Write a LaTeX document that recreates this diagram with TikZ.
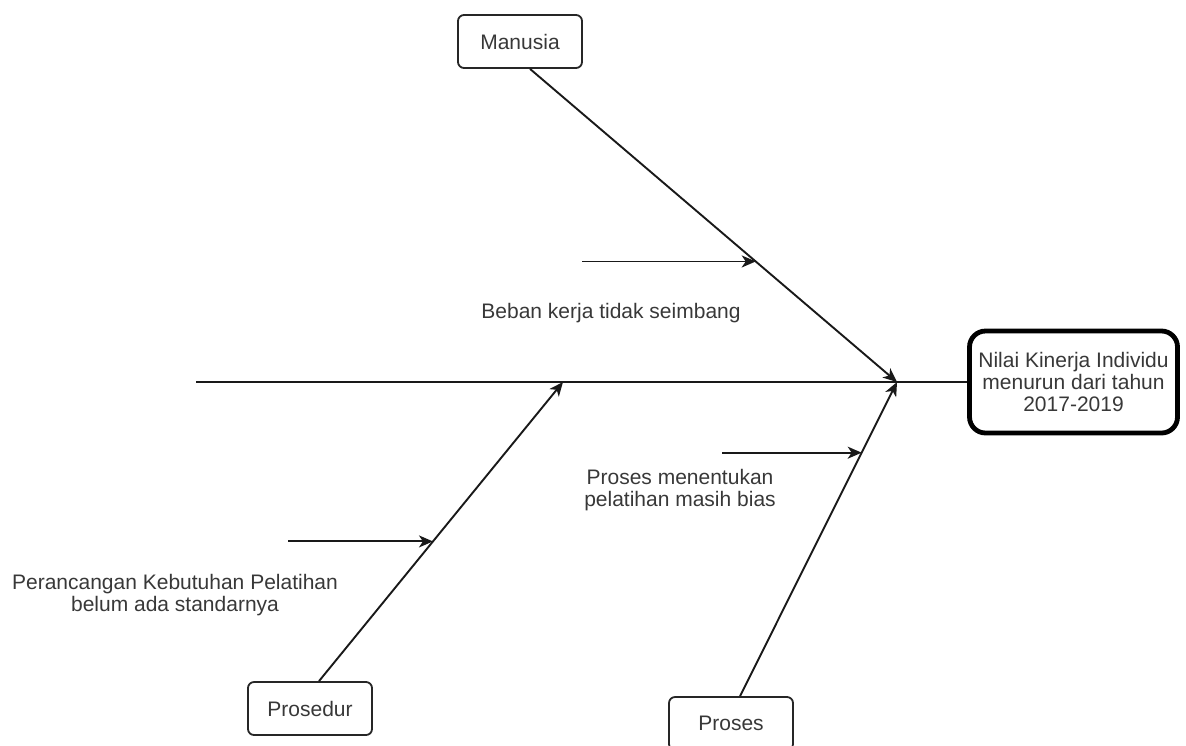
\documentclass[tikz,border=0pt]{standalone}
\usepackage{fontspec}
\setmainfont{Liberation Sans}
\usetikzlibrary{calc,arrows.meta}
\tikzset{
	boxtext/.style = {align=center, inner sep=0pt, text centered, text=black!78, font=\fontsize{10.5pt}{11.2pt}\selectfont},
	cause/.style = {boxtext, draw=black!85, line width=0.9pt, rounded corners=3pt, minimum width=62pt, minimum height=26.5pt},
	effect/.style = {boxtext, draw=black, line width=2.4pt, rounded corners=8pt, minimum width=104pt, minimum height=51pt},
	bone/.style = {draw=black!90, line width=0.95pt},
	twig/.style = {bone, -{Stealth[length=7pt,width=6pt,inset=2pt]}}
}

\begin{document}
\begin{tikzpicture}[x=0.5pt, y=-0.5pt]
		\clip (0,0) rectangle (1186,745);
		\node [cause] (manusia) at (520,41.5) {Manusia};
		\node [cause] (prosedur) at (310,708.5) {Prosedur};
		\node [cause] (proses) at (731,723.5) {Proses};
		\node [effect] (nilai) at (1073.5,382) {Nilai Kinerja Individu\\menurun dari tahun\\2017-2019};
		\coordinate (ekor) at (196,382);
		\coordinate (sendi1) at (897,382);
		\coordinate (sendi2) at (563,382);
		\coordinate (pangkal1) at ([xshift=5pt]manusia.south);
		\coordinate (pangkal2) at ([xshift=4.5pt]prosedur.north);
		\coordinate (pangkal3) at ([xshift=4.5pt]proses.north);
		\draw [bone] (ekor) -- (nilai.west);
		\draw [twig] (pangkal1) -- (sendi1);
		\draw [twig] (pangkal2) -- (sendi2);
		\draw [twig] (pangkal3) -- (sendi1);
		\coordinate (ujung1) at ($(pangkal1)!0.615!(sendi1)$);
		\coordinate (ujung2) at ($(pangkal2)!0.467!(sendi2)$);
		\coordinate (ujung3) at ($(pangkal3)!0.775!(sendi1)$);
		\coordinate (awal1) at (582,261);
		\coordinate (awal2) at (288,542);
		\coordinate (awal3) at (722,453);
		\draw [twig] (ujung1 -| awal1) -- (ujung1);
		\draw [twig] (ujung2 -| awal2) -- (ujung2);
		\draw [twig] (ujung3 -| awal3) -- (ujung3);
		\node [boxtext] (beban) at (611,313) {Beban kerja tidak seimbang};
		\node [boxtext] (menentukan) at (680,490) {Proses menentukan\\pelatihan masih bias};
		\node [boxtext] (perancangan) at (175,595) {Perancangan Kebutuhan Pelatihan\\belum ada standarnya};
\end{tikzpicture}
\end{document}
